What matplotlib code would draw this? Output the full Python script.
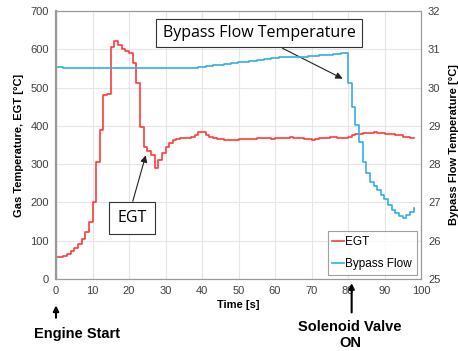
import matplotlib
matplotlib.use('Agg')
import matplotlib.pyplot as plt

plt.rcParams['font.family'] = ['Liberation Sans', 'DejaVu Sans']

# time base [s], 1 s sampling
tempo = list(range(0, 99))

# exhaust gas temperature [degC]
egt = [57, 58, 61, 66, 73, 82, 92, 105, 124, 150,
       200, 305, 390, 480, 482, 607, 622, 610, 602, 595,
       590, 563, 511, 398, 345, 335, 325, 290, 310, 328,
       345, 355, 362, 365, 368, 369, 369, 370, 375, 383,
       385, 377, 371, 368, 366, 365, 364, 364, 364, 364,
       365, 365, 366, 366, 366, 367, 368, 367, 368, 366,
       368, 369, 367, 368, 370, 368, 368, 367, 366, 365,
       364, 365, 367, 369, 368, 371, 370, 369, 367, 367,
       372, 377, 379, 380, 381, 382, 382, 383, 382, 381,
       380, 379, 378, 376, 375, 372, 370, 368, 369]

# bypass flow temperature [degC]
bypass = [30.53, 30.53, 30.52, 30.52, 30.52, 30.51, 30.51, 30.51, 30.51, 30.51,
          30.51, 30.51, 30.51, 30.51, 30.51, 30.51, 30.51, 30.51, 30.52, 30.52,
          30.52, 30.52, 30.52, 30.52, 30.52, 30.52, 30.52, 30.52, 30.52, 30.52,
          30.52, 30.52, 30.51, 30.51, 30.51, 30.50, 30.50, 30.50, 30.51, 30.53,
          30.55, 30.56, 30.57, 30.58, 30.59, 30.60, 30.61, 30.62, 30.63, 30.64,
          30.66, 30.67, 30.68, 30.69, 30.70, 30.72, 30.73, 30.74, 30.75, 30.76,
          30.78, 30.79, 30.80, 30.80, 30.79, 30.79, 30.79, 30.80, 30.81, 30.82,
          30.82, 30.83, 30.84, 30.85, 30.86, 30.86, 30.87, 30.88, 30.89, 30.91,
          30.11, 29.50, 29.02, 28.58, 28.06, 27.76, 27.54, 27.43, 27.32, 27.20,
          27.10, 26.93, 26.80, 26.72, 26.65, 26.60, 26.68, 26.75, 26.85]

vermelho = '#ff3b3b'
azul = '#35aee6'
cinza = '#404040'

fig = plt.figure(figsize=(4.58, 3.51), dpi=100)
ax = fig.add_axes([56/458, 1-279/351, 365/458, 268/351])
ax2 = ax.twinx()

l1, = ax.plot(tempo, egt, color=vermelho, lw=1.2, drawstyle='steps-post', label='EGT')
l2, = ax2.plot(tempo, bypass, color=azul, lw=1.2, drawstyle='steps-post', label='Bypass Flow')

ax.set_xlim(0, 100)
ax.set_ylim(0, 700)
ax2.set_ylim(25, 32)
ax.set_xticks(range(0, 101, 10))
ax.set_yticks(range(0, 701, 100))
ax2.set_yticks(range(25, 33))
ax.grid(True, color='#e6e6e6', lw=0.8)
ax.set_axisbelow(True)

for a in (ax, ax2):
    a.tick_params(length=0, labelsize=8, colors=cinza, pad=5)
    for s in a.spines.values():
        s.set_color('#999999')
        s.set_linewidth(0.8)
ax.spines['left'].set_linewidth(1.6)

ax.set_xlabel('Time [s]', fontsize=8, fontweight='bold', labelpad=3)
ax.set_ylabel('Gas Temperature, EGT [°C]', fontsize=8, fontweight='bold', labelpad=5)
ax2.set_ylabel('Bypass Flow Temperature [°C]', fontsize=8, fontweight='bold', labelpad=6)

leg = ax2.legend(handles=[l1, l2], loc='lower right', fontsize=8.5, handlelength=1.0,
                 handletextpad=0.1, fancybox=False, edgecolor='#888888',
                 borderaxespad=0.35, labelspacing=0.85)
leg.get_frame().set_linewidth(0.8)

# callout boxes
caixa = dict(boxstyle='square,pad=0.4', fc='white', ec='#333333', lw=0.8)
seta = dict(arrowstyle='-|>', color='#222222', lw=0.8, mutation_scale=10)
fig.text(259/458, 1-33/351, 'Bypass Flow Temperature', fontsize=11.5,
         family=['Open Sans', 'DejaVu Sans'], ha='center', va='center', bbox=caixa)
ax.annotate('', xy=(79.2, 30.2), xycoords=ax2.transData,
            xytext=(280/458, 1-47/351), textcoords='figure fraction', arrowprops=seta)
fig.text(132/458, 1-218/351, 'EGT', fontsize=11.5, family=['Open Sans', 'DejaVu Sans'],
         ha='center', va='center',
         bbox=dict(boxstyle='square,pad=0.5', fc='white', ec='#333333', lw=0.8))
ax.annotate('', xy=(24.8, 330), xytext=(132/458, 1-204/351),
            textcoords='figure fraction', arrowprops=seta)

# events below the axis
seta_ev = dict(arrowstyle='-|>', color='black', lw=1.5, mutation_scale=8)
ax.annotate('', xy=(0, -0.088), xycoords=('data', 'axes fraction'),
            xytext=(0, -0.155), textcoords=('data', 'axes fraction'), arrowprops=seta_ev)
ax.annotate('', xy=(81, -0.005), xycoords=('data', 'axes fraction'),
            xytext=(81, -0.135), textcoords=('data', 'axes fraction'), arrowprops=seta_ev)
fig.text(77/458, 1-334/351, 'Engine Start', fontsize=10.5, fontweight='bold',
         ha='center', va='center')
fig.text(350/458, 1-335/351, 'Solenoid Valve\nON', fontsize=10.5, fontweight='bold',
         ha='center', va='center', linespacing=1.15)

fig.savefig('out.png', dpi=100)
